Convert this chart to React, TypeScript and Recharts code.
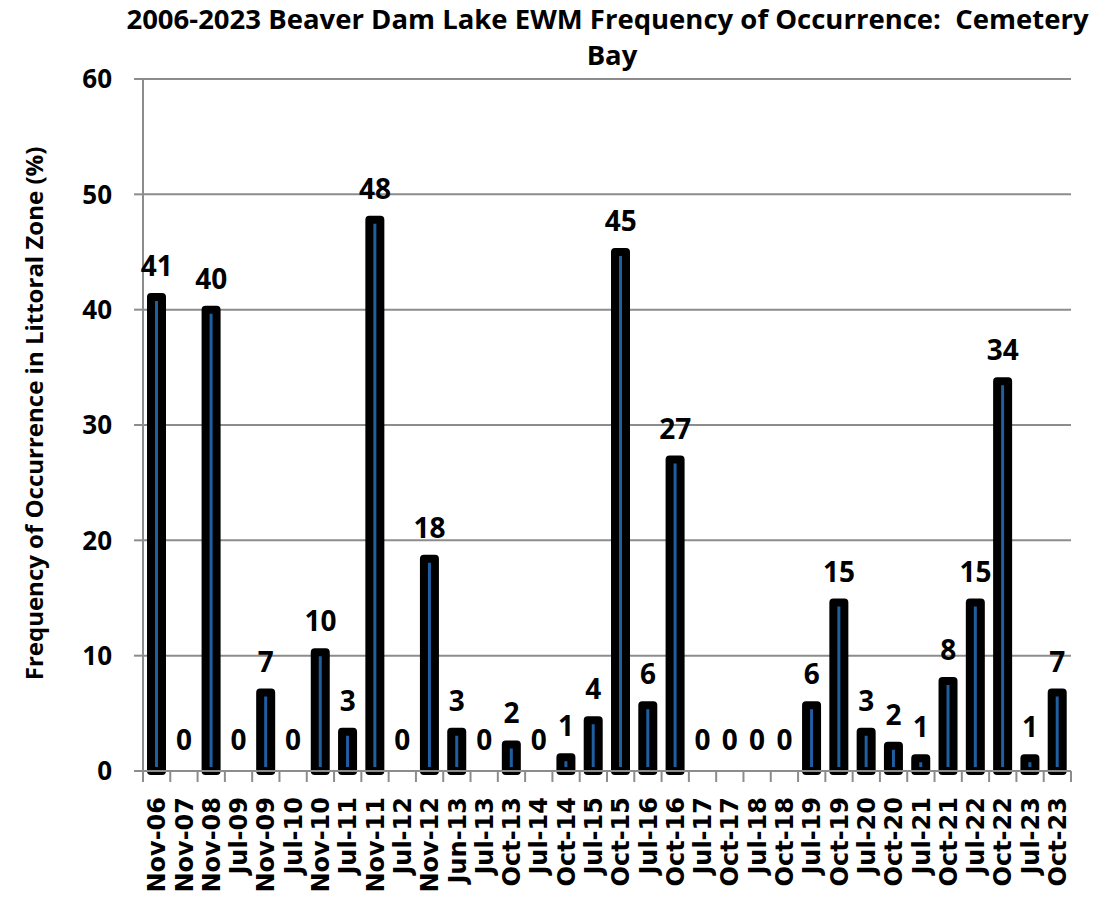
import React from "react";
import { ComposedChart, Bar, Line, XAxis, YAxis, CartesianGrid, LabelList } from "recharts";

const categories = [
  "Nov-06", "Nov-07", "Nov-08", "Jul-09", "Nov-09", "Jul-10", "Nov-10", "Jul-11", "Nov-11", "Jul-12",
  "Nov-12", "Jun-13", "Jul-13", "Oct-13", "Jul-14", "Oct-14", "Jul-15", "Oct-15", "Jul-16", "Oct-16",
  "Jul-17", "Oct-17", "Jul-18", "Oct-18", "Jul-19", "Oct-19", "Jul-20", "Oct-20", "Jul-21", "Oct-21",
  "Jul-22", "Oct-22", "Jul-23", "Oct-23",
];
const values = [
  41.1, 0, 40.0, 0, 6.8, 0, 10.3, 3.4, 47.8, 0,
  18.4, 3.4, 0, 2.3, 0, 1.2, 4.4, 45.0, 5.7, 27.0,
  0, 0, 0, 0, 5.7, 14.6, 3.4, 2.2, 1.1, 7.8,
  14.6, 33.8, 1.1, 6.8,
];
const yTicks = [0, 10, 20, 30, 40, 50, 60];

const titleLine1 = "2006-2023 Beaver Dam Lake EWM Frequency of Occurrence:  Cemetery";
const titleLine2 = "Bay";
const yLabel = "Frequency of Occurrence in Littoral Zone (%)";

const data = categories.map((c, i) => ({ cat: c, v: values[i] }));

const W = 1100;
const H = 889;
const MARGIN = { top: 71, right: 37, left: 0, bottom: 0 };
const Y_AXIS_W = 135;
const X_AXIS_H = 126;
const GRID = "#8c8c8c";
const FONT = "Open Sans";
const plotWidth = W - MARGIN.left - MARGIN.right - Y_AXIS_W;
const band = plotWidth / categories.length;

const XTick = (props: any) => {
  const { x, y, payload, index } = props;
  const last = index === categories.length - 1;
  return (
    <g>
      <line x1={x - band / 2} x2={x - band / 2} y1={y} y2={y + 11} stroke={GRID} strokeWidth={2} />
      {last && <line x1={x + band / 2} x2={x + band / 2} y1={y} y2={y + 11} stroke={GRID} strokeWidth={2} />}
      <text
        x={x}
        y={y + 26}
        transform={`rotate(-90, ${x}, ${y + 26})`}
        textAnchor="end"
        dy="0.36em"
        fontFamily="DejaVu Sans"
        fontWeight="bold"
        fontSize={24}
        fill="#000"
      >
        {payload.value}
      </text>
    </g>
  );
};

const ValueLabel = (props: any) => {
  const { x, y, value } = props;
  return (
    <text x={Number(x)} y={Number(y) - 21} textAnchor="middle" fontFamily={FONT} fontWeight="bold" fontSize={28} fill="#000">
      {String(Math.round(Number(value)))}
    </text>
  );
};

export default function App() {
  return (
    <div style={{ position: "relative", width: W, height: H }}>
      <ComposedChart width={W} height={H} data={data} margin={MARGIN} barCategoryGap={0}>
        <CartesianGrid vertical={false} stroke={GRID} strokeWidth={2} />
        <XAxis
          dataKey="cat"
          interval={0}
          height={X_AXIS_H}
          tickLine={false}
          tickSize={0}
          tickMargin={0}
          axisLine={{ stroke: GRID, strokeWidth: 2 }}
          tick={<XTick />}
        />
        <YAxis
          domain={[0, 60]}
          ticks={yTicks}
          width={Y_AXIS_W}
          tickSize={9}
          tickMargin={22}
          axisLine={{ stroke: GRID, strokeWidth: 2 }}
          tickLine={{ stroke: GRID, strokeWidth: 2 }}
          tick={{ fill: "#000", fontFamily: FONT, fontWeight: "bold", fontSize: 26 }}
        />
        <Bar
          dataKey="v"
          fill="#1f5fa0"
          stroke="#000"
          strokeWidth={8}
          strokeLinejoin="round"
          barSize={11}
          isAnimationActive={false}
        />
        <Line
          dataKey="v"
          stroke="none"
          dot={false}
          activeDot={false}
          legendType="none"
          isAnimationActive={false}
        >
          <LabelList dataKey="v" content={<ValueLabel />} />
        </Line>
      </ComposedChart>
      <svg width={W} height={H} style={{ position: "absolute", left: 0, top: 0, pointerEvents: "none", overflow: "visible" }}>
        <text x={599.5} y={21} textAnchor="middle" fontFamily={FONT} fontWeight="bold" fontSize={27.5} fill="#000" style={{ whiteSpace: "pre" }}>
          {titleLine1}
        </text>
        <text x={604} y={57} textAnchor="middle" fontFamily={FONT} fontWeight="bold" fontSize={27.5} fill="#000">
          {titleLine2}
        </text>
        <text
          x={35}
          y={405.5}
          transform="rotate(-90, 35, 405.5)"
          textAnchor="middle"
          fontFamily={FONT}
          fontWeight="bold"
          fontSize={24}
          fill="#000"
        >
          {yLabel}
        </text>
      </svg>
    </div>
  );
}
